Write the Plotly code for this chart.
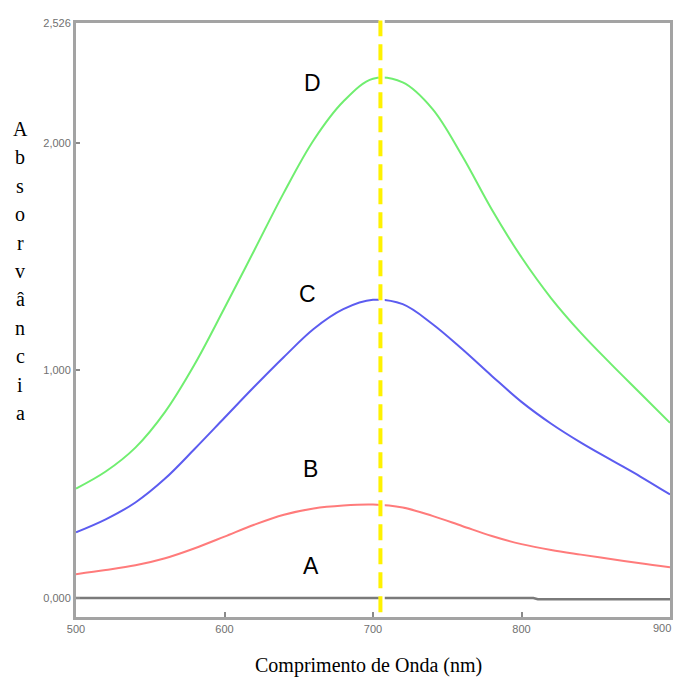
import plotly.graph_objects as go

# Wavelength grid (nm)
wavelength = [500, 520, 540, 560, 580, 600, 620, 640, 660, 680, 700,
              720, 740, 760, 780, 800, 820, 840, 860, 880, 900]

# Absorbance of each solution
abs_D = [0.481, 0.556, 0.661, 0.818, 1.028, 1.274, 1.527, 1.781, 2.011, 2.181, 2.281,
         2.265, 2.149, 1.943, 1.707, 1.497, 1.317, 1.165, 1.030, 0.900, 0.770]
abs_C = [0.289, 0.346, 0.420, 0.525, 0.656, 0.792, 0.928, 1.059, 1.182, 1.269, 1.310,
         1.291, 1.204, 1.094, 0.976, 0.862, 0.766, 0.683, 0.608, 0.534, 0.455]
abs_B = [0.105, 0.123, 0.144, 0.175, 0.219, 0.270, 0.322, 0.366, 0.394, 0.407, 0.411,
         0.398, 0.361, 0.317, 0.273, 0.237, 0.211, 0.191, 0.172, 0.153, 0.136]
wl_A = [500, 808, 811, 900]
abs_A = [0.0, 0.0, -0.005, -0.005]

peak_nm = 705
x_ticks = [500, 600, 700, 800, 900]
x_tick_text = ["500", "600", "700", "800", ""]   # last label drawn flush with the edge
last_x_label = "900"
y_ticks = [0, 1, 2, 2.526]
y_title = "Absorvância"
x_title = "Comprimento de Onda (nm)"
curve_labels = [("D", 659, 2.263), ("C", 655.6, 1.335), ("B", 658.2, 0.565), ("A", 658.2, 0.140)]

tick_font = dict(family="Liberation Sans, Arial", size=11, color="#707070")

fig = go.Figure()
fig.add_trace(go.Scatter(x=wl_A, y=abs_A, mode="lines",
                         line=dict(color="#7a7a7a", width=2.5), hoverinfo="skip"))
fig.add_trace(go.Scatter(x=wavelength, y=abs_B, mode="lines", line_shape="spline",
                         line=dict(color="#ff7b7b", width=2)))
fig.add_trace(go.Scatter(x=wavelength, y=abs_C, mode="lines", line_shape="spline",
                         line=dict(color="#5c5cf0", width=2)))
fig.add_trace(go.Scatter(x=wavelength, y=abs_D, mode="lines", line_shape="spline",
                         line=dict(color="#70ee70", width=2)))

# white gap + yellow dashed peak line
fig.add_shape(type="line", xref="x", yref="paper", x0=peak_nm + 0.9, x1=peak_nm + 0.9,
              y0=0.01, y1=1.005, line=dict(color="white", width=6), layer="above")
fig.add_shape(type="line", xref="x", yref="paper", x0=peak_nm, x1=peak_nm,
              y0=0.008, y1=1.004, line=dict(color="#fff200", width=4, dash="16px,8px"),
              layer="above")

annotations = []
for txt, xv, yv in curve_labels:
    annotations.append(dict(x=xv, y=yv, xref="x", yref="y", text=txt, showarrow=False,
                            font=dict(family="Liberation Sans, Arial", size=23, color="black"),
                            xanchor="center", yanchor="middle"))

# stacked vertical y title
top_px, step_px = 129, 28.4
for i, ch in enumerate(y_title):
    py = top_px + i * step_px
    annotations.append(dict(x=(20 - 76) / 594, y=(617 - py) / 594, xref="paper", yref="paper",
                            text=ch, showarrow=False, xanchor="center", yanchor="middle",
                            font=dict(family="Liberation Serif, Times New Roman", size=20,
                                      color="black")))
annotations.append(dict(x=(368 - 76) / 594, y=(617 - 665) / 594, xref="paper", yref="paper",
                        text=x_title, showarrow=False, xanchor="center", yanchor="middle",
                        font=dict(family="Liberation Serif, Times New Roman", size=20,
                                  color="black")))
# last x tick label, kept fully inside the page
annotations.append(dict(x=x_ticks[-1], y=0, xref="x", yref="paper", text=last_x_label,
                        showarrow=False, xanchor="right", yanchor="top", yshift=-3, xshift=3,
                        font=tick_font))

axis_common = dict(showline=True, mirror=True, linecolor="#a3a3a3", linewidth=3,
                   showgrid=False, zeroline=False, ticks="inside", tickcolor="#8a8a8a",
                   tickwidth=1.5, automargin=False, tickfont=tick_font)

fig.update_layout(
    width=673, height=677,
    margin=dict(l=76, r=3, t=23, b=60),
    paper_bgcolor="white", plot_bgcolor="white",
    showlegend=False,
    separators=",.",
    annotations=annotations,
    xaxis=dict(range=[500, 900], tickvals=x_ticks, ticktext=x_tick_text, ticklen=5,
               **axis_common),
    yaxis=dict(range=[-0.083, 2.526], tickvals=y_ticks, tickformat=".3f", ticklen=4,
               **axis_common),
)

fig.write_html("out.html")
